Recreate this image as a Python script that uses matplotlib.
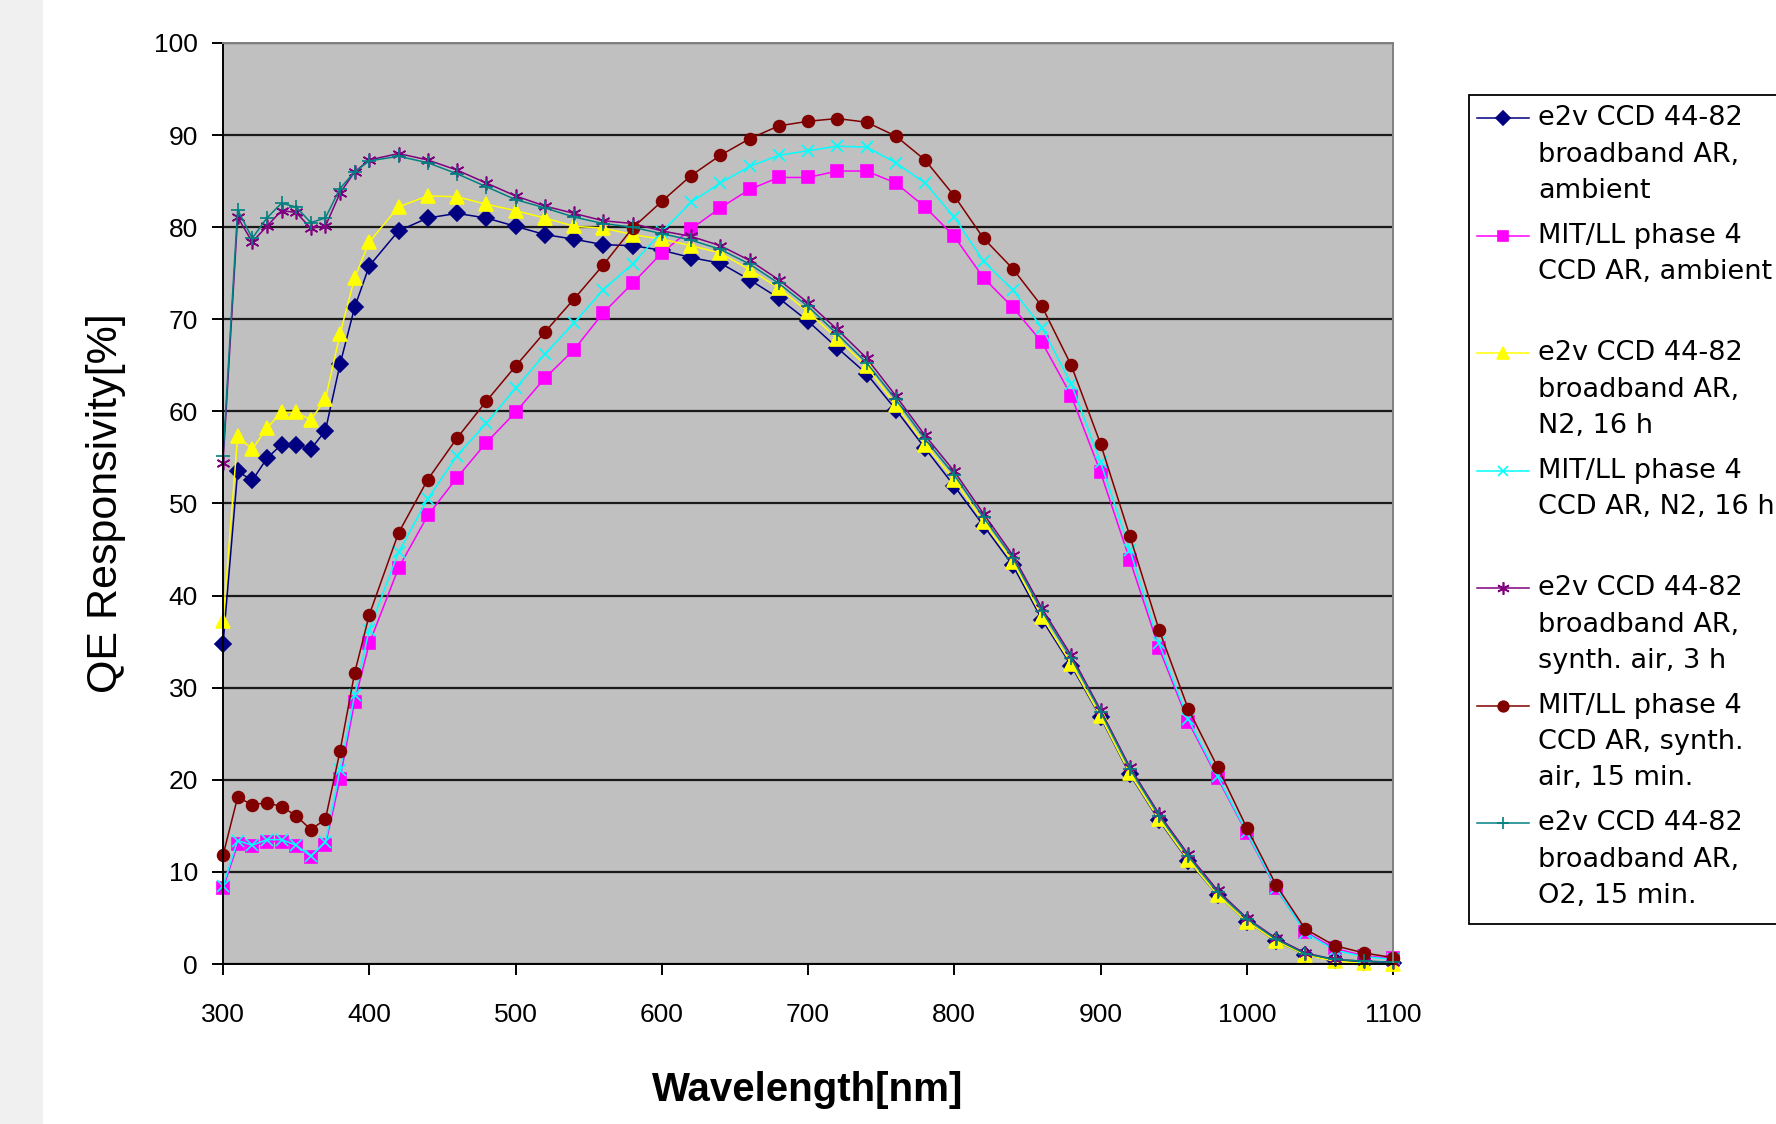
import numpy as np
import matplotlib.pyplot as plt
from matplotlib.lines import Line2D
from matplotlib.patches import Rectangle

W, H = 1776, 1124

wavelength = [300, 310, 320, 330, 340, 350, 360, 370, 380, 390, 400,
              420, 440, 460, 480, 500, 520, 540, 560, 580, 600,
              620, 640, 660, 680, 700, 720, 740, 760, 780, 800,
              820, 840, 860, 880, 900, 920, 940, 960, 980, 1000,
              1020, 1040, 1060, 1080, 1100]

e2v_ambient = [34.7, 53.5, 52.5, 54.9, 56.4, 56.4, 55.9, 57.9, 65.1, 71.3, 75.8,
               79.6, 81.0, 81.5, 81.0, 80.1, 79.2, 78.7, 78.1, 78.0, 77.5,
               76.7, 76.1, 74.3, 72.3, 69.8, 66.9, 64.1, 60.2, 56.0, 51.9,
               47.6, 43.3, 37.4, 32.4, 26.8, 20.6, 15.6, 11.2, 7.5, 4.6,
               2.5, 1.0, 0.4, 0.2, 0.1]

mit_ambient = [8.2, 13.0, 12.8, 13.3, 13.3, 12.8, 11.6, 12.9, 20.1, 28.5, 34.8,
               43.0, 48.7, 52.8, 56.6, 59.9, 63.6, 66.7, 70.7, 73.9, 77.2,
               79.8, 82.1, 84.1, 85.4, 85.4, 86.1, 86.1, 84.8, 82.2, 79.0,
               74.5, 71.3, 67.5, 61.7, 53.4, 43.9, 34.3, 26.3, 20.2, 14.2,
               8.2, 3.5, 1.7, 0.9, 0.6]

e2v_n2 = [37.2, 57.3, 55.9, 58.2, 59.9, 59.9, 59.1, 61.3, 68.4, 74.5, 78.4,
          82.2, 83.4, 83.3, 82.5, 81.8, 81.0, 80.1, 79.9, 79.2, 78.7,
          78.0, 77.2, 75.4, 73.4, 70.8, 67.9, 64.9, 60.7, 56.4, 52.6,
          48.0, 43.7, 37.7, 32.6, 26.9, 20.7, 15.7, 11.3, 7.5, 4.6,
          2.5, 1.0, 0.3, 0.1, 0.0]

mit_n2 = [8.5, 13.4, 12.9, 13.5, 13.5, 12.9, 11.7, 13.2, 21.1, 29.2, 36.3,
          44.7, 50.5, 55.2, 58.7, 62.5, 66.2, 69.6, 73.2, 76.0, 79.5,
          82.7, 84.8, 86.6, 87.8, 88.3, 88.8, 88.7, 87.0, 84.8, 81.1,
          76.3, 73.2, 69.1, 63.0, 54.5, 45.0, 34.8, 26.6, 20.4, 14.3,
          8.3, 3.4, 1.5, 0.8, 0.5]

e2v_synth = [54.4, 81.1, 78.4, 80.1, 81.8, 81.6, 79.9, 80.1, 83.7, 86.0, 87.3,
             88.0, 87.3, 86.2, 84.8, 83.4, 82.3, 81.5, 80.7, 80.4, 79.6,
             79.0, 78.0, 76.4, 74.3, 71.8, 68.9, 65.8, 61.7, 57.4, 53.5,
             48.9, 44.4, 38.6, 33.5, 27.6, 21.4, 16.3, 11.9, 8.0, 5.0,
             2.8, 1.2, 0.5, 0.3, 0.2]

mit_synth = [11.8, 18.1, 17.3, 17.5, 17.1, 16.1, 14.6, 15.7, 23.1, 31.6, 37.9,
             46.8, 52.6, 57.1, 61.1, 64.9, 68.6, 72.2, 75.9, 79.9, 82.8,
             85.6, 87.8, 89.6, 91.0, 91.5, 91.8, 91.4, 89.9, 87.3, 83.4,
             78.8, 75.5, 71.4, 65.0, 56.5, 46.5, 36.3, 27.7, 21.4, 14.8,
             8.6, 3.8, 2.0, 1.2, 0.7]

e2v_o2 = [55.2, 81.9, 78.8, 81.0, 82.6, 82.2, 80.5, 81.0, 84.2, 86.0, 87.2,
          87.7, 87.0, 85.8, 84.4, 83.0, 82.1, 81.1, 80.4, 80.0, 79.3,
          78.6, 77.6, 76.0, 73.9, 71.4, 68.4, 65.3, 61.3, 57.0, 53.1,
          48.5, 44.1, 38.3, 33.2, 27.4, 21.2, 16.1, 11.7, 7.8, 4.9,
          2.7, 1.1, 0.5, 0.3, 0.2]

labels = [
    ['e2v CCD 44-82', 'broadband AR,', 'ambient'],
    ['MIT/LL phase 4', 'CCD AR, ambient'],
    ['e2v CCD 44-82', 'broadband AR,', 'N2, 16 h'],
    ['MIT/LL phase 4', 'CCD AR, N2, 16 h'],
    ['e2v CCD 44-82', 'broadband AR,', 'synth. air, 3 h'],
    ['MIT/LL phase 4', 'CCD AR, synth.', 'air, 15 min.'],
    ['e2v CCD 44-82', 'broadband AR,', 'O2, 15 min.'],
]

series = [e2v_ambient, mit_ambient, e2v_n2, mit_n2, e2v_synth, mit_synth, e2v_o2]
colors = ['#000080', '#ff00ff', '#ffff00', '#00ffff', '#800080', '#800000', '#008080']
markers = ['D', 's', '^', 'x', (6, 2, 0), 'o', '+']
sizes = [8, 8.5, 9.5, 8, 10, 8.5, 10]

fig = plt.figure(figsize=(W / 100, H / 100), dpi=100)
fig.patch.set_facecolor('white')
fig.patches.append(Rectangle((0, 0), 43 / W, 1, transform=fig.transFigure,
                             facecolor='#f0f0f0', edgecolor='none', zorder=0))

ax = fig.add_axes([223 / W, 1 - 964 / H, (1393 - 223) / W, (964 - 43) / H])
ax.set_facecolor('#c0c0c0')

for y, c, m, s in zip(series, colors, markers, sizes):
    ax.plot(wavelength, y, color=c, lw=1.1, marker=m, ms=s,
            markeredgecolor=c, markerfacecolor=c, mew=1.2, clip_on=False)

ax.set_xlim(300, 1100)
ax.set_ylim(0, 100)
ax.set_xticks(np.arange(300, 1101, 100))
ax.set_yticks(np.arange(0, 101, 10))
ax.yaxis.grid(True, color='#1a1a1a', lw=1.6)
ax.set_axisbelow(True)

for side in ['left', 'bottom']:
    ax.spines[side].set_color('black')
    ax.spines[side].set_linewidth(1.4)
for side in ['top', 'right']:
    ax.spines[side].set_color('#808080')
    ax.spines[side].set_linewidth(1.4)

ax.tick_params(direction='out', length=8, width=1.4, colors='black',
               labelsize=19)
ax.tick_params(axis='x', pad=20)
ax.tick_params(axis='y', pad=10)
for lab in ax.get_xticklabels() + ax.get_yticklabels():
    lab.set_family('Liberation Sans')

ax.set_xlabel('Wavelength[nm]', fontsize=29, fontweight='bold',
              family='Liberation Sans', labelpad=32)
ax.set_ylabel('QE Responsivity[%]', fontsize=31,
              family='Liberation Sans', labelpad=20)

# legend drawn by hand so the handle sits on the first text line
fig.patches.append(Rectangle((1469 / W, 1 - 924 / H), 400 / W, (924 - 95) / H,
                             transform=fig.transFigure, facecolor='white',
                             edgecolor='black', lw=1.3, zorder=5))
for i, (lines, c, m, s) in enumerate(zip(labels, colors, markers, sizes)):
    y0 = 118.3 + i * 117.5
    fig.add_artist(Line2D([1477 / W, 1529 / W], [1 - y0 / H, 1 - y0 / H],
                          transform=fig.transFigure, color=c, lw=1.1, zorder=6))
    fig.add_artist(Line2D([1503 / W], [1 - y0 / H], transform=fig.transFigure,
                          color=c, marker=m, ms=s * 0.9, mew=1.2, zorder=6))
    for j, line in enumerate(lines):
        fig.text(1538 / W, 1 - (y0 + j * 36.3) / H, line, fontsize=19.5,
                 family='DejaVu Sans', va='center', ha='left', zorder=7)

fig.savefig('out.png', dpi=100)
